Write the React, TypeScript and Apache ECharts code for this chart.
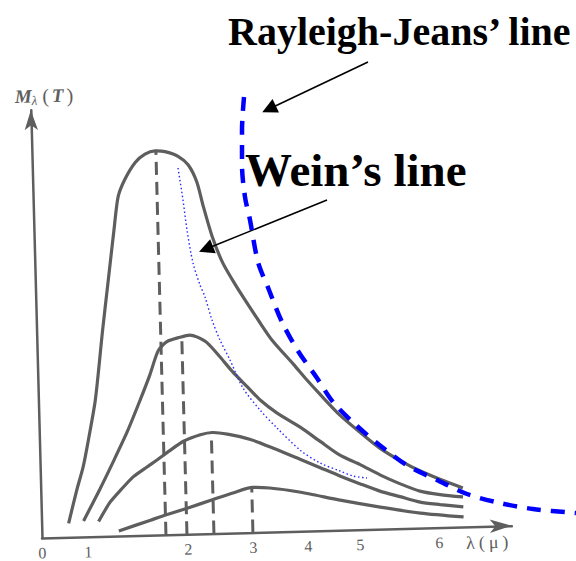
import React, { useEffect, useRef } from "react";
import * as echarts from "echarts";

// ---- figure data (figure units) ----
const xTickPos = [0, 46, 146, 211, 266, 318, 397, 445];
const xTickLabels = ["0", "1", "2", "3", "4", "5", "6", "λ(μ)"];

const curveNames = ["1700K", "1500K", "1300K", "1100K"];

const curve1700K = [[27,14],[36,47],[43,70],[49,97],[57,137],[66,206],[73,256],[80,306],[85,339],[92,356],[103,373],[113,381],[123,384],[133,383],[146,378],[156,369],[164,352],[170,327],[178,297],[188,270],[200,248],[209,233],[222,212],[235,192],[256,167],[269,151],[282,136],[301,115],[321,97],[340,81],[360,68],[380,57],[400,48],[422,39]];
const curve1500K = [[42,16],[59,47],[73,74],[88,104],[102,136],[112,160],[121,184],[130,193],[143,197],[153,199],[160,197],[170,191],[183,176],[195,161],[209,146],[222,132],[238,119],[261,104],[281,89],[300,75],[320,65],[340,54],[359,45],[379,37],[399,33],[422,30]];
const curve1300K = [[57,15],[69,34],[80,46],[93,59],[105,67],[117,75],[130,84],[144,93],[161,99],[173,101],[188,99],[211,93],[233,84],[260,72],[280,63],[300,54],[319,46],[339,38],[359,32],[379,26],[399,23],[422,20]];
const curve1100K = [[77,5],[109,15],[125,20],[146,26],[172,34],[192,40],[212,45],[229,44],[249,41],[269,37],[299,30],[339,22],[379,15],[422,10]];

const peakX = [124, 145, 172, 211];
const peakY = [384, 198, 100, 44];

// ---- overlay data ----
const rayleighJeans = [[202,441],[200,408],[200,373],[203,341],[208,318],[216,276],[227,248],[240,216],[256,187],[275,160],[291,136],[315,112],[340,91],[366,72],[395,58],[425,44],[458,35],[491,29],[534,25]];
const weinLine = [[136,370],[141,338],[145,308],[151,275],[158,253],[163,241],[170,218],[178,198],[188,178],[201,150],[218,128],[235,110],[258,88],[278,75],[298,67],[311,62],[325,60]];
const rjArrow = [[326,476],[227,429]];
const weinArrow = [[285,338],[164,289]];

const rjTitle = "Rayleigh-Jeans\u2019 line";
const weinTitle = "Wein\u2019s line";

// ---- styles ----
const gray = "#5e5e5e";
const serif = '"Liberation Serif", "Times New Roman", serif';
const labelOffsets = [[4, -14], [20, -18], [10, -16], [1, -16]];

export default function App() {
  const baseRef = useRef<HTMLDivElement>(null);
  const overRef = useRef<HTMLDivElement>(null);

  useEffect(() => {
    const base = echarts.init(baseRef.current!, null, { renderer: "svg" });
    const over = echarts.init(overRef.current!, null, { renderer: "svg" });

    const curves = [curve1700K, curve1500K, curve1300K, curve1100K];

    base.setOption({
      animation: false,
      backgroundColor: "transparent",
      grid: { left: 42, right: 64, top: 110, bottom: 62, containLabel: false, outerBoundsMode: "none" },
      xAxis: {
        type: "value",
        min: 0,
        max: 470,
        splitLine: { show: false },
        axisTick: { show: false },
        axisLine: {
          show: true,
          onZero: false,
          lineStyle: { color: gray, width: 2.5 },
          symbol: ["none", "arrow"],
          symbolSize: [10, 22],
        },
        axisLabel: {
          customValues: xTickPos,
          formatter: (v: number) => {
            const i = xTickPos.indexOf(v);
            if (i < 0) return "";
            const t = xTickLabels[i];
            if (t.length > 1) {
              return t.split("").map((ch) => `{g|${ch}}`).join("");
            }
            return t;
          },
          color: gray,
          fontSize: 16,
          lineHeight: 14,
          fontFamily: serif,
          margin: 8,
          rich: {
            g: { fontSize: 18, lineHeight: 16, fontFamily: serif, color: gray, padding: [0, 2, 0, 2] },
          },
        },
      },
      yAxis: {
        type: "value",
        min: 0,
        max: 428,
        splitLine: { show: false },
        axisTick: { show: false },
        axisLabel: { show: false },
        axisLine: {
          show: true,
          onZero: false,
          lineStyle: { color: gray, width: 2.5 },
          symbol: ["none", "arrow"],
          symbolSize: [10, 20],
        },
        name: "{m|M}{s|λ}{p|(}{t|T}{p|)}",
        nameLocation: "end",
        nameGap: 3,
        nameTextStyle: {
          padding: [0, 0, 0, 30],
          rich: {
            m: { fontFamily: serif, fontStyle: "italic", fontWeight: "bold", fontSize: 19, color: gray },
            s: { fontFamily: serif, fontStyle: "italic", fontSize: 13, color: gray, padding: [9, 2, 0, 0] },
            p: { fontFamily: serif, fontSize: 20, color: gray, padding: [0, 3, 0, 3] },
            t: { fontFamily: serif, fontStyle: "italic", fontWeight: "bold", fontSize: 19, color: gray },
          },
        },
      },
      series: [
        ...curves.map((c, i) => ({
          type: "line",
          name: curveNames[i],
          data: c,
          smooth: 0.25,
          symbol: "none",
          silent: true,
          lineStyle: { color: gray, width: 3.2 },
        })),
        ...peakX.map((x, i) => ({
          type: "line",
          data: [[x, 0], [x, peakY[i]]],
          symbol: "none",
          silent: true,
          lineStyle: { color: gray, width: 3, type: [13, 7] },
        })),
        {
          type: "scatter",
          silent: true,
          symbolSize: 1,
          itemStyle: { opacity: 0 },
          data: peakX.map((x, i) => ({
            value: [x, peakY[i]],
            name: curveNames[i],
            label: { offset: labelOffsets[i] },
          })),
          label: {
            show: true,
            position: "inside",
            formatter: "{b}",
            color: gray,
            fontSize: 21,
            fontFamily: serif,
          },
        },
      ],
    });

    over.setOption({
      animation: false,
      backgroundColor: "transparent",
      grid: { left: 42, right: 0, top: 0, bottom: 23, containLabel: false, outerBoundsMode: "none" },
      xAxis: { type: "value", min: 0, max: 534, show: false },
      yAxis: { type: "value", min: 0, max: 538, show: false },
      series: [
        {
          type: "line",
          name: "Rayleigh-Jeans",
          data: rayleighJeans,
          smooth: 0.3,
          symbol: "none",
          silent: true,
          lineStyle: { color: "#0000ff", width: 4.5, type: [14, 10] },
        },
        {
          type: "line",
          name: "Wein",
          data: weinLine,
          smooth: 0.3,
          symbol: "none",
          silent: true,
          lineStyle: { color: "#2a2aff", width: 1.4, type: [1.5, 2.5] },
        },
        {
          type: "lines",
          coordinateSystem: "cartesian2d",
          silent: true,
          data: [{ coords: rjArrow }, { coords: weinArrow }],
          symbol: ["none", "triangle"],
          symbolSize: 15,
          lineStyle: { color: "#000", width: 1.6, opacity: 1, curveness: 0 },
        },
      ],
      graphic: [
        {
          type: "text",
          x: 228,
          y: 31,
          style: { text: rjTitle, font: `bold 40px ${serif}`, fill: "#000", verticalAlign: "middle" },
        },
        {
          type: "text",
          x: 245,
          y: 170,
          style: { text: weinTitle, font: `bold 47px ${serif}`, fill: "#000", verticalAlign: "middle" },
        },
      ],
    });

    return () => {
      base.dispose();
      over.dispose();
    };
  }, []);

  return (
    <div style={{ position: "fixed", left: 0, top: 0, width: 576, height: 561, background: "#fff", overflow: "hidden" }}>
      <div
        ref={baseRef}
        style={{ position: "absolute", left: 0, top: 0, width: 576, height: 600, transform: "rotate(-1.5deg)", transformOrigin: "42px 538px" }}
      />
      <div ref={overRef} style={{ position: "absolute", left: 0, top: 0, width: 576, height: 561, pointerEvents: "none" }} />
    </div>
  );
}
